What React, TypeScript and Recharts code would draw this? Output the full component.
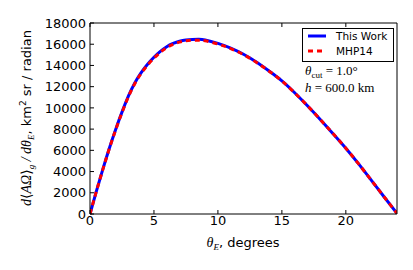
import { LineChart, Line, XAxis, YAxis } from 'recharts';

// theta_E (degrees) and d<A Omega>_g / d theta_E (km^2 sr / radian)
const thetaE = [0, 0.5, 1, 1.5, 2, 2.5, 3, 3.5, 4, 4.5, 5, 5.5, 6, 6.5, 7, 7.5, 8, 8.5, 9, 10, 11, 12, 13, 14, 15, 16, 17, 18, 19, 20, 21, 22, 23, 24];
const thisWork = [0, 2150, 4200, 6150, 7950, 9600, 11100, 12350, 13330, 14120, 14770, 15320, 15770, 16070, 16280, 16400, 16450, 16460, 16400, 16080, 15640, 15060, 14330, 13480, 12550, 11430, 10200, 8910, 7570, 6200, 4720, 3170, 1600, 60];
const mhp14 = [0, 2140, 4180, 6120, 7910, 9550, 11040, 12280, 13250, 14040, 14690, 15240, 15690, 15990, 16200, 16320, 16370, 16380, 16330, 16020, 15590, 15020, 14300, 13460, 12540, 11420, 10200, 8910, 7570, 6200, 4720, 3170, 1600, 60];

const xTicks = [0, 5, 10, 15, 20];
const yTicks = [0, 2000, 4000, 6000, 8000, 10000, 12000, 14000, 16000, 18000];

const data = thetaE.map((t, i) => ({ t, work: thisWork[i], mhp: mhp14[i] }));

const SANS = '"DejaVu Sans", sans-serif';
const SERIF = '"Liberation Serif", "DejaVu Serif", serif';
const tickFont = { fontSize: 13, fill: '#000', fontFamily: SANS };
const noLabel = () => <g />;

export default function App() {
  return (
    <div style={{ position: 'absolute', left: 0, top: 0, width: 413, height: 270, background: '#fff' }}>
      <LineChart width={413} height={270} data={data} margin={{ top: 22, right: 15, bottom: 0, left: 0 }}>
        <XAxis dataKey="t" type="number" domain={[0, 24]} ticks={xTicks} allowDataOverflow
          height={56} tickSize={-4} tickMargin={6} tick={tickFont}
          axisLine={{ stroke: '#000' }} tickLine={{ stroke: '#000' }} />
        <XAxis xAxisId="top" orientation="top" dataKey="t" type="number" domain={[0, 24]} ticks={xTicks}
          height={1} tickSize={-4} tick={noLabel}
          axisLine={{ stroke: '#000' }} tickLine={{ stroke: '#000' }} />
        <YAxis type="number" domain={[0, 18000]} ticks={yTicks} interval={0}
          width={90} tickSize={-4} tickMargin={8} tick={tickFont}
          axisLine={{ stroke: '#000' }} tickLine={{ stroke: '#000' }} />
        <YAxis yAxisId="right" orientation="right" type="number" domain={[0, 18000]} ticks={yTicks} interval={0}
          width={1} tickSize={-4} tick={noLabel}
          axisLine={{ stroke: '#000' }} tickLine={{ stroke: '#000' }} />
        <Line type="natural" dataKey="work" stroke="#0000ff" strokeWidth={3} dot={false} isAnimationActive={false} />
        <Line type="natural" dataKey="mhp" stroke="#ff0000" strokeWidth={3} strokeDasharray="5 4" dot={false} isAnimationActive={false} />
      </LineChart>
      <svg width={413} height={270} style={{ position: 'absolute', left: 0, top: 0, pointerEvents: 'none' }}>
        {/* legend */}
        <rect x={302.5} y={28.5} width={91} height={33} fill="#fff" stroke="#000" strokeWidth={1} />
        <line x1={308} x2={326} y1={36} y2={36} stroke="#0000ff" strokeWidth={3} />
        <line x1={308} x2={326} y1={51} y2={51} stroke="#ff0000" strokeWidth={3} strokeDasharray="5 4" />
        <text x={336} y={40} fontSize={10.5} fontFamily={SANS} fill="#000">This Work</text>
        <text x={336} y={55} fontSize={10.5} fontFamily={SANS} fill="#000">MHP14</text>

        {/* annotation */}
        <text x={305} y={75} fontSize={13} fontFamily={SERIF} fill="#000">
          <tspan fontStyle="italic">θ</tspan>
          <tspan fontSize={9} dy={3}>cut</tspan>
          <tspan dy={-3}> = 1.0°</tspan>
        </text>
        <text x={305} y={92} fontSize={13} fontFamily={SERIF} fill="#000">
          <tspan fontStyle="italic">h</tspan>
          <tspan> = 600.0 km</tspan>
        </text>

        {/* x axis title */}
        <text x={243} y={247} textAnchor="middle" fontSize={13} fontFamily={SANS} fill="#000">
          <tspan fontFamily={SERIF} fontStyle="italic" fontSize={14}>θ</tspan>
          <tspan fontFamily={SERIF} fontStyle="italic" fontSize={9} dy={3}>E</tspan>
          <tspan dy={-3}>, degrees</tspan>
        </text>

        {/* y axis title */}
        <text transform="translate(31,118) rotate(-90)" textAnchor="middle" fontSize={13} fontFamily={SANS} fill="#000">
          <tspan fontFamily={SERIF} fontStyle="italic" fontSize={14}>d</tspan>
          <tspan fontFamily={SERIF} fontSize={14}>⟨</tspan>
          <tspan fontFamily={SERIF} fontStyle="italic" fontSize={14}>AΩ</tspan>
          <tspan fontFamily={SERIF} fontSize={14}>⟩</tspan>
          <tspan fontFamily={SERIF} fontStyle="italic" fontSize={9} dy={3}>g</tspan>
          <tspan fontFamily={SERIF} fontStyle="italic" fontSize={14} dy={-3}> / dθ</tspan>
          <tspan fontFamily={SERIF} fontStyle="italic" fontSize={9} dy={3}>E</tspan>
          <tspan dy={-3}>, km</tspan>
          <tspan fontSize={9} dy={-5}>2</tspan>
          <tspan dy={5}> sr / radian</tspan>
        </text>
      </svg>
    </div>
  );
}
